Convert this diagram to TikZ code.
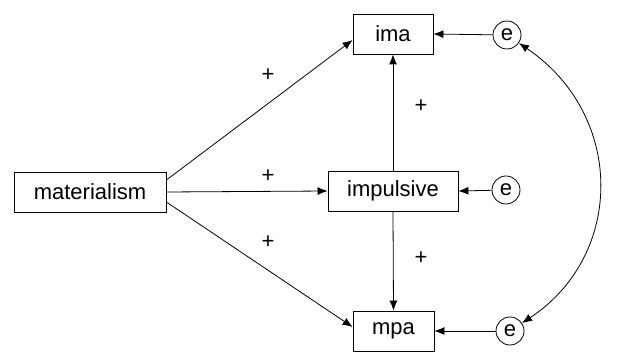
\documentclass[tikz,border=0pt]{standalone}
\usepackage{fontspec}
\setmainfont{Liberation Sans}
\usetikzlibrary{arrows.meta}
\tikzset{
  var/.style={draw, rectangle, minimum height=20pt, inner sep=0pt},
  err/.style={draw, circle, minimum size=14pt, inner sep=0pt},
  path/.style={-{Latex[length=5pt,width=4pt]}},
}

\begin{document}
\begin{tikzpicture}[x=0.5pt,y=-0.5pt,font=\fontsize{11}{13}\selectfont]
\useasboundingbox (0,0) rectangle (617,352);

\node[var, minimum width=76pt] (mat) at (90,192) {materialism};
\node[var, minimum width=40pt] (ima) at (393,34) {ima};
\node[var, minimum width=65pt] (imp) at (393,191) {impulsive};
\node[var, minimum width=40.5pt] (mpa) at (393.5,331) {mpa};

\node[err] (e1) at (507,35) {e};
\node[err] (e2) at (506,190) {e};
\node[err] (e3) at (510,331) {e};

\draw[path] ([yshift=6pt]mat.east) -- ([yshift=-3pt]ima.west);
\draw[path] (mat.east) -- (imp.west);
\draw[path] ([yshift=-5pt]mat.east) -- ([yshift=2pt]mpa.west);
\draw[path] (imp.north) -- (ima.south);
\draw[path] (imp.south) -- (mpa.north);

\draw[path] (e1) -- (ima.east);
\draw[path] (e2) -- (imp.east);
\draw[path] (e3) -- (mpa.east);

\draw[{Latex[length=5pt,width=4pt]}-{Latex[length=5pt,width=4pt]}] (e1) .. controls (625,115) and (625,255) .. (e3);

\node (p1) at (268,75) {+};
\node (p2) at (268,176) {+};
\node (p3) at (268,242) {+};
\node (p4) at (421,106) {+};
\node (p5) at (421,258) {+};
\end{tikzpicture}
\end{document}
